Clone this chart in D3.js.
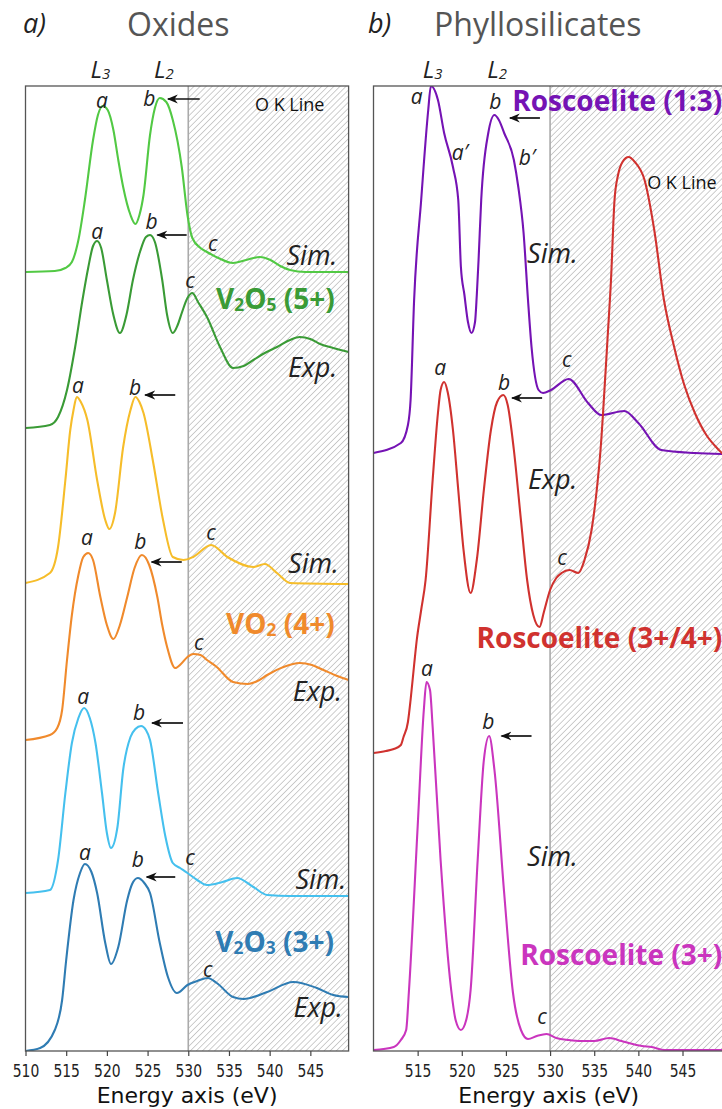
<!DOCTYPE html>
<html>
<head>
<meta charset="utf-8">
<script src="https://cdn.jsdelivr.net/npm/d3@7"></script>
<style>
  body { margin: 0; background: #fff; }
  svg { display: block; font-family: "Open Sans", sans-serif; }
</style>
</head>
<body>
<script>
// ---- data: [energy (eV), offset intensity (a.u.)] ----
const v2o5Sim = [[510,77.9],[513.6,78],[514.9,78.3],[515.7,78.9],[516.5,81.1],[517.3,85.1],[518.3,91.1],[518.9,93.6],[519.5,94.5],[520.1,94.1],[520.8,92.1],[521.4,89.1],[522,86.4],[522.9,83.6],[523.5,82.7],[524,83.6],[524.5,85.6],[525.3,91.6],[525.9,94.3],[526.5,95.3],[527.3,94.9],[528.1,93.1],[529.2,88.4],[529.9,83.6],[530.5,81.3],[531.5,80.3],[532.3,79.9],[533.7,79.3],[535.5,78.8],[537.1,79.1],[538.8,79.4],[540.1,79.1],[541.3,78.5],[542.5,78.1],[544.4,77.9],[549.7,77.9]];
const v2o5Exp = [[510,62.3],[513,62.6],[514,63.4],[515.1,66.1],[516.1,70.4],[517,75.1],[517.7,78.3],[518.3,80.5],[518.8,81],[519.3,80.3],[520,77.1],[520.8,73.6],[521.6,71.8],[522.4,73.6],[523.2,77.1],[524.1,80],[524.8,81.4],[525.3,81.6],[525.9,80.9],[526.8,77.1],[527.4,73.6],[528.1,71.8],[528.7,72.6],[529.2,73.8],[529.9,75.3],[530.5,75.8],[531.2,74.9],[532.3,73.4],[533.9,70.4],[535.5,68.3],[536.8,68.5],[538,69.1],[539.4,69.8],[540.9,70.4],[542.5,71.1],[543.7,71.4],[545,71.2],[546.2,70.7],[547.8,70.3],[549.7,69.9]];
const vo2Sim = [[510,46.8],[513,47.8],[514,50.4],[514.9,57.1],[515.5,62.1],[515.9,64.1],[516.3,65.4],[516.8,64.9],[517.6,63.1],[518.8,57.1],[519.8,53.1],[520.3,52.2],[521,53.8],[522,60.4],[522.9,64.1],[523.5,65.4],[524,64.9],[524.5,63.8],[525.7,58.8],[526.9,53.1],[528.1,49.4],[529.4,49.1],[530.6,49.4],[532.8,50.6],[534.8,49.4],[538,48.4],[539.4,48.7],[540.9,47.8],[542.5,46.8],[549.7,46.7]];
const vo2Exp = [[510,31.1],[513,31.6],[513.9,32.3],[514.5,34.1],[515.1,39.1],[515.7,43.6],[516.5,47.6],[517.1,49.4],[517.7,49.8],[518.3,49.1],[519.2,45.4],[520,42.6],[520.8,41.2],[521.6,42.6],[522.5,45.4],[523.4,48.3],[524.3,49.6],[525.2,48.6],[526.2,45.4],[526.8,42.6],[527.4,40.4],[528.4,38.3],[529.1,38.7],[529.9,39.4],[530.6,39.7],[531.5,39.6],[532.3,39.1],[533.5,38.4],[535.5,36.9],[537.3,36.7],[538.5,37],[539.7,37.6],[541.7,38.4],[543.7,38.8],[545.2,38.6],[546.6,38.1],[548.3,37.5],[549.7,37.1]];
const v2o3Sim = [[510,15.8],[513,16.1],[514,19.1],[514.9,25.8],[515.7,30.8],[516.5,33.3],[517.2,34.3],[517.9,33.3],[518.6,30.8],[519.4,25.8],[520,21.8],[520.5,20.3],[521.3,22.4],[522,28.1],[522.9,31.4],[523.5,32.2],[524.2,32.5],[524.8,32.1],[525.3,31.1],[526.3,25.8],[527.2,21.4],[528.1,18.8],[529,18.3],[529.9,17.8],[531.1,17.1],[532.3,16.6],[534.2,16.9],[536,17.3],[538,16.4],[539.7,15.6],[542.5,15.5],[549.7,15.5]];
const v2o3Exp = [[510,0],[511.8,0.3],[513.6,2.1],[514.5,5.1],[515,9.1],[515.9,15.1],[516.7,17.8],[517.3,18.7],[518.1,17.9],[518.8,15.8],[519.8,10.8],[520.5,8.7],[521.4,10.4],[522.5,15.1],[523.1,16.7],[523.8,17.3],[524.6,16.8],[525.3,15.8],[526.5,10.8],[527.5,7.4],[528.6,5.8],[529.9,6.6],[531.1,7],[532.4,7.3],[533.5,6.8],[535.5,5.4],[536.8,5.2],[539.7,5.9],[542.9,6.9],[545.8,6.3],[547.8,5.6],[549.7,5.4]];

const rosc13Sim = [[510,59.8],[513.1,60.8],[513.9,62.6],[514.2,65.1],[514.6,75.1],[515.4,85.1],[516.2,94.1],[516.5,96.5],[517.3,95.1],[518,91.8],[519,88.4],[519.6,85.1],[519.9,78.4],[520.3,75.6],[520.7,72.9],[521.1,71.8],[521.5,72.9],[521.7,75.6],[521.9,79.1],[522.2,85.1],[523,91.8],[523.7,93.6],[524.2,93.1],[524.8,91.8],[525.9,89.1],[526.4,86.4],[527,81.8],[527.5,75.1],[527.9,70.4],[528.7,66.1],[529.2,65.8],[530.1,66.1],[532.1,67.2],[534.3,64.8],[535.8,63.6],[538.4,64],[540,62.8],[542.6,60.1],[546.4,59.8],[549.7,59.7]];
const rosc34Exp = [[510,29.8],[511.4,30],[512.3,30.2],[513.1,30.6],[513.4,31.4],[513.9,32.9],[514.2,35.1],[514.6,38.6],[514.9,41.1],[515.4,44.1],[515.9,47.1],[516.7,57.1],[517.3,63.8],[517.6,66.1],[518,66.9],[518.4,65.9],[519,62.1],[519.6,56.1],[520.2,50.1],[521,45.8],[521.7,49.1],[522.5,56.1],[523.3,62.1],[524,64.9],[524.7,65.6],[525.2,64.6],[525.9,60.1],[526.7,53.1],[527.4,47.1],[528.1,43.6],[528.8,42.4],[529.3,43.9],[530,46.1],[530.7,47.3],[531.3,47.8],[532.2,48.1],[533.2,47.8],[533.9,49.1],[534.7,52.1],[535.2,55.4],[535.8,61.1],[536,63.8],[536.5,71.1],[536.9,77.1],[537.3,85.1],[537.7,87.6],[538.2,88.9],[538.9,89.4],[539.6,88.9],[540.7,87.1],[541.8,82.1],[542.9,75.1],[544,70.6],[545.2,66.6],[546.4,63.8],[547.7,61.6],[548.9,60.3],[549.7,59.6]];
const rosc3Sim = [[510,0.1],[512.3,0.4],[513.1,1.1],[513.7,2.1],[514,5.8],[515,22.4],[515.7,34.1],[516,36.9],[516.4,36.1],[516.7,32.4],[517.6,19.1],[518.8,6.1],[519.3,3.1],[519.9,2.1],[520.5,3.1],[521,6.1],[521.8,19.1],[522.5,29.1],[523.1,31.5],[523.7,28.1],[524.8,15.8],[525.8,5.8],[526.7,2.1],[527.5,1.2],[528.5,1.5],[529.6,1.7],[530.7,1.3],[532.1,1.1],[533.5,1.0],[535,1.0],[536.7,1.3],[538.1,1.0],[538.9,0.8],[540.4,0.5],[541.5,0.4],[543,0.1],[549.7,0.1]];

const energyDomain = [510, 549.7];
const intensityDomain = [0, 96.5];
const oxideTicks = [510, 515, 520, 525, 530, 535, 540, 545];
const phylloTicks = [515, 520, 525, 530, 535, 540, 545];
const oLineEdge = 530;

// annotations: [text, energy, intensity]
const oxidePeakLabels = [
  ["a",519.4,95.0],["b",525.2,95.2],["c",533.0,80.7],
  ["a",518.8,81.9],["b",525.5,82.9],["c",530.2,77.0],
  ["a",516.45,66.5],["b",523.45,66.3],["c",532.8,51.8],
  ["a",517.55,51.3],["b",524.1,50.9],["c",531.3,40.8],
  ["a",517.1,35.4],["b",523.95,33.8],["c",530.2,19.3],
  ["a",517.3,19.8],["b",523.8,19.1],["c",532.4,8.1]
];
const oxideArrows = [[531.4,527.5,95.2],[529.8,526.2,81.6],[528.4,524.7,65.6],[529.2,525.5,48.9],[529.35,525.55,32.8],[528.4,524.9,17.4]];
const oxideTags = [["Sim.",548.3,79.5],["Exp.",548.3,68.3],["Sim.",548.5,48.7],["Exp.",548.9,35.9],["Sim.",549.4,17.1],["Exp.",549.0,4.3]];
const oxideNames = [["V₂O₅ (5+)",548.0,75.2],["VO₂ (4+)",548.0,42.7],["V₂O₃ (3+)",547.9,10.9]];

const phylloPeakLabels = [
  ["a",514.9,95.4],["b",523.8,94.9],["a′",519.8,89.8],["b′",527.4,89.3],["c",531.9,69.1],
  ["a",517.55,68.3],["b",524.8,66.8],["c",531.35,49.3],
  ["a",516.05,38.2],["b",523.0,32.9],["c",529.1,3.4]
];
const phylloArrows = [[528.85,525.45,93.3],[529.1,525.7,65.3],[527.9,524.5,31.5]];
const phylloTags = [["Sim.",527.4,79.7],["Exp.",527.5,57.1],["Sim.",527.4,19.4]];
const phylloNames = [["Roscoelite (1:3)",549.5,95.0],["Roscoelite (3+/4+)",549.5,41.3],["Roscoelite (3+)",549.5,9.6]];

const edgeLabels = [["L₃",519.2],["L₂",527.0]];
const edgeLabelsB = [["L₃",516.7],["L₂",524.0]];

// ---- layout ----
const width = 722, height = 1109;
const plotTop = 86, plotBottom = 1051;

const svg = d3.select("body").append("svg")
  .attr("width", width)
  .attr("height", height);

const defs = svg.append("defs");
defs.append("pattern")
  .attr("id", "hatch")
  .attr("patternUnits", "userSpaceOnUse")
  .attr("width", 4.3).attr("height", 4.3)
  .attr("patternTransform", "rotate(45)")
  .append("line")
  .attr("x1", 0).attr("y1", 0).attr("x2", 0).attr("y2", 4.3)
  .attr("stroke", "#9c9c9c").attr("stroke-width", 1);

defs.append("marker")
  .attr("id", "head")
  .attr("viewBox", "0 0 10 10")
  .attr("refX", 9).attr("refY", 5)
  .attr("markerUnits", "userSpaceOnUse")
  .attr("markerWidth", 11).attr("markerHeight", 11)
  .attr("orient", "auto")
  .append("path")
  .attr("d", "M0,1 L10,5 L0,9 L3,5 z")
  .attr("fill", "#111");

const subDigits = "₀₁₂₃₄₅₆₇₈₉";

// writes a string into a <text>, turning unicode subscript digits into small lowered tspans
function richText(text, str, size, shift) {
  const runs = [];
  for (const ch of str) {
    const isSub = subDigits.includes(ch);
    const c = isSub ? String(subDigits.indexOf(ch)) : ch;
    if (runs.length && runs[runs.length - 1].sub === isSub) runs[runs.length - 1].t += c;
    else runs.push({ t: c, sub: isSub });
  }
  let down = false;
  runs.forEach(r => {
    const ts = text.append("tspan").text(r.t);
    if (r.sub) {
      ts.attr("font-size", size * 0.62).attr("dy", shift);
      down = true;
    } else if (down) {
      ts.attr("dy", -shift);
      down = false;
    }
  });
}

function drawPanel(p) {
  const x = d3.scaleLinear().domain(energyDomain).range([p.left, p.right]);
  const y = d3.scaleLinear().domain(intensityDomain).range([plotBottom, plotTop]);
  const g = svg.append("g");

  g.append("clipPath").attr("id", "clip-" + p.id)
    .append("rect")
    .attr("x", p.left).attr("y", plotTop)
    .attr("width", p.right - p.left).attr("height", plotBottom - plotTop);

  // O K edge hatched region
  g.append("rect")
    .attr("x", x(oLineEdge)).attr("y", plotTop)
    .attr("width", p.right - x(oLineEdge)).attr("height", plotBottom - plotTop)
    .attr("fill", "url(#hatch)");
  g.append("line")
    .attr("x1", x(oLineEdge)).attr("x2", x(oLineEdge))
    .attr("y1", plotTop).attr("y2", plotBottom)
    .attr("stroke", "#aaa").attr("stroke-width", 1.6);

  const line = d3.line()
    .x(d => x(d[0]))
    .y(d => y(d[1]))
    .curve(d3.curveMonotoneX);

  g.append("g").attr("clip-path", `url(#clip-${p.id})`)
    .selectAll("path")
    .data(p.series)
    .join("path")
    .attr("d", s => line(s.data))
    .attr("fill", "none")
    .attr("stroke", s => s.color)
    .attr("stroke-width", 2.1)
    .attr("stroke-linejoin", "round");

  // frame
  g.append("rect")
    .attr("x", p.left).attr("y", plotTop)
    .attr("width", p.right - p.left).attr("height", plotBottom - plotTop)
    .attr("fill", "none").attr("stroke", "#555").attr("stroke-width", 1.3);

  // x axis
  const axis = g.append("g")
    .attr("transform", `translate(0,${plotBottom})`)
    .call(d3.axisBottom(x).tickValues(p.ticks).tickSize(5).tickSizeOuter(0));
  axis.select(".domain").remove();
  axis.selectAll(".tick line").attr("stroke", "#444").attr("stroke-width", 1.2);
  axis.selectAll(".tick text")
    .attr("fill", "#222")
    .attr("font-family", "'DejaVu Sans', sans-serif")
    .attr("font-size", 17)
    .attr("y", 0)
    .attr("dy", 0)
    .attr("transform", "translate(0,26) scale(0.82,1)");

  g.append("text")
    .attr("x", (p.left + p.right) / 2).attr("y", 1103)
    .attr("text-anchor", "middle")
    .attr("font-family", "'DejaVu Sans', sans-serif")
    .attr("font-size", 22)
    .attr("fill", "#111")
    .text("Energy axis (eV)");

  // titles
  g.append("text").attr("x", p.letterX).attr("y", 33)
    .attr("font-style", "italic").attr("font-size", 27).attr("fill", "#222")
    .text(p.letter);
  g.append("text").attr("x", p.titleX).attr("y", 36)
    .attr("font-size", 32).attr("fill", "#555")
    .text(p.title);

  // L3 / L2 above the frame
  p.edges.forEach(([t, e]) => {
    const tx = g.append("text")
      .attr("x", x(e)).attr("y", 78)
      .attr("text-anchor", "middle")
      .attr("font-style", "italic").attr("font-size", 24).attr("fill", "#222");
    richText(tx, t, 24, 1);
  });

  // peak letters
  g.selectAll(null).data(p.peaks).join("text")
    .attr("x", d => x(d[1])).attr("y", d => y(d[2]))
    .attr("dy", "0.35em")
    .attr("text-anchor", "middle")
    .attr("font-style", "italic").attr("font-size", 21).attr("fill", "#222")
    .text(d => d[0]);

  // arrows pointing at the L2 peak
  g.selectAll(null).data(p.arrows).join("line")
    .attr("x1", d => x(d[0])).attr("x2", d => x(d[1]))
    .attr("y1", d => y(d[2])).attr("y2", d => y(d[2]))
    .attr("stroke", "#111").attr("stroke-width", 1.7)
    .attr("marker-end", "url(#head)");

  // Sim. / Exp.
  g.selectAll(null).data(p.tags).join("text")
    .attr("x", d => x(d[1])).attr("y", d => y(d[2]))
    .attr("dy", "0.35em")
    .attr("text-anchor", p.tagAnchor)
    .attr("font-style", "italic").attr("font-size", 27).attr("fill", "#222")
    .text(d => d[0]);

  // compound names
  p.names.forEach(([t, e, v], i) => {
    const tx = g.append("text")
      .attr("x", x(e)).attr("y", y(v))
      .attr("dy", "0.35em")
      .attr("text-anchor", "end")
      .attr("font-weight", 700).attr("font-size", 28)
      .attr("fill", p.nameColors[i]);
    richText(tx, t, 28, 2);
  });

  g.append("text")
    .attr("x", x(p.oLine[0])).attr("y", y(p.oLine[1]))
    .attr("dy", "0.35em")
    .attr("font-size", 18).attr("fill", "#111")
    .text("O K Line");
}

drawPanel({
  id: "oxides", left: 25.5, right: 348.6,
  letter: "a)", letterX: 23, title: "Oxides", titleX: 127,
  ticks: oxideTicks,
  series: [
    { data: v2o5Sim, color: "#52c944" },
    { data: v2o5Exp, color: "#3a9b36" },
    { data: vo2Sim, color: "#f6bd2a" },
    { data: vo2Exp, color: "#f08a2c" },
    { data: v2o3Sim, color: "#45c0ee" },
    { data: v2o3Exp, color: "#2f7cb3" }
  ],
  nameColors: ["#3a9b36", "#f08a2c", "#2f7cb3"],
  edges: edgeLabels, peaks: oxidePeakLabels, arrows: oxideArrows,
  tags: oxideTags, tagAnchor: "end", names: oxideNames,
  oLine: [538.2, 94.6]
});

drawPanel({
  id: "phyllo", left: 373.5, right: 724,
  letter: "b)", letterX: 368, title: "Phyllosilicates", titleX: 434,
  ticks: phylloTicks,
  series: [
    { data: rosc13Sim, color: "#7513b4" },
    { data: rosc34Exp, color: "#d0322f" },
    { data: rosc3Sim, color: "#ca35be" }
  ],
  nameColors: ["#7513b4", "#d0322f", "#ca35be"],
  edges: edgeLabelsB, peaks: phylloPeakLabels, arrows: phylloArrows,
  tags: phylloTags, tagAnchor: "start", names: phylloNames,
  oLine: [541.0, 86.8]
});
</script>
</body>
</html>
